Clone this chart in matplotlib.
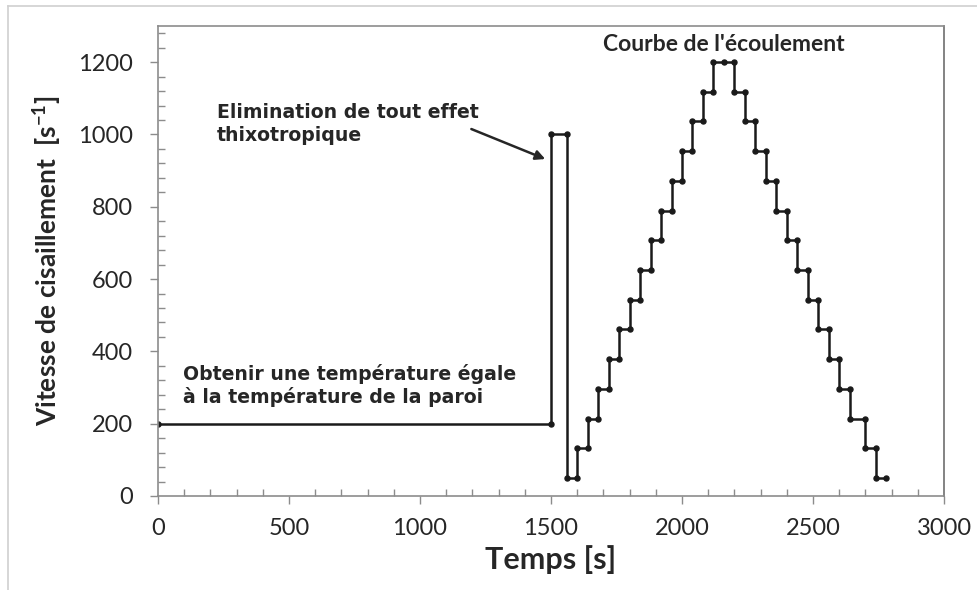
import matplotlib
matplotlib.use("Agg")
import matplotlib.pyplot as plt
from matplotlib.lines import Line2D
from matplotlib.ticker import MultipleLocator

# Step profile: time [s] and shear rate [1/s] at each recorded point
temps = [0, 1500, 1500, 1560, 1560, 1600, 1600, 1640, 1640, 1680, 1680,
         1720, 1720, 1760, 1760, 1800, 1800, 1840, 1840, 1880, 1880,
         1920, 1920, 1960, 1960, 2000, 2000, 2040, 2040, 2080, 2080,
         2120, 2120, 2160, 2200, 2200, 2240, 2240, 2280, 2280, 2320,
         2320, 2360, 2360, 2400, 2400, 2440, 2440, 2480, 2480, 2520,
         2520, 2560, 2560, 2600, 2600, 2640, 2640, 2700, 2700, 2740,
         2740, 2780]
vitesse = [200, 200, 1000, 1000, 50, 50, 132, 132, 214, 214, 296,
           296, 379, 379, 461, 461, 543, 543, 625, 625, 707,
           707, 789, 789, 871, 871, 954, 954, 1036, 1036, 1118,
           1118, 1200, 1200, 1200, 1118, 1118, 1036, 1036, 954, 954,
           871, 871, 789, 789, 707, 707, 625, 625, 543, 543,
           461, 461, 379, 379, 296, 296, 214, 214, 132, 132,
           50, 50]

x_ticks = [0, 500, 1000, 1500, 2000, 2500, 3000]
y_ticks = [0, 200, 400, 600, 800, 1000, 1200]

W, H = 977, 590
fig = plt.figure(figsize=(W / 100, H / 100), dpi=100)
ax = fig.add_axes([158 / W, 1 - 496 / H, (944 - 158) / W, (496 - 26) / H])

ax.plot(temps, vitesse, color="#1a1a1a", lw=1.8, marker="o", ms=3.6,
        solid_joinstyle="miter")

ax.set_xlim(0, 3000)
ax.set_ylim(0, 1300)
ax.set_xticks(x_ticks)
ax.set_yticks(y_ticks)
ax.xaxis.set_minor_locator(MultipleLocator(100))
ax.yaxis.set_minor_locator(MultipleLocator(40))

gray = "#8c8c8c"
for s in ax.spines.values():
    s.set_color(gray)
    s.set_linewidth(1.2)
ax.spines["right"].set_color("#6e6e6e")
ax.tick_params(which="major", direction="out", length=6, width=1, color=gray,
               labelsize=17, labelcolor="#262626", pad=6)
ax.tick_params(which="minor", direction="in", length=5, width=1, color=gray)
for lab in ax.get_xticklabels() + ax.get_yticklabels():
    lab.set_family("Lato")
ax.tick_params(axis="x", pad=10)
ax.tick_params(axis="y", pad=12)

ax.set_xlabel("Temps [s]", family="Lato", fontweight="bold", fontsize=22,
              color="#262626", labelpad=4)
ax.set_ylabel(r"Vitesse de cisaillement  [s$^{\mathregular{-1}}$]", family="Lato",
              fontweight="bold", fontsize=19, color="#262626", labelpad=10)

ax.text(2160, 1250, "Courbe de l'écoulement", family="Lato", fontweight="bold",
        fontsize=16.5, ha="center", va="center", color="#262626")
ax.text(225, 1088, "Elimination de tout effet\nthixotropique", family="DejaVu Sans",
        fontweight="bold", fontsize=13.6, ha="left", va="top", color="#262626",
        linespacing=1.3)
ax.text(95, 366, "Obtenir une température égale\nà la température de la paroi",
        family="DejaVu Sans", fontweight="bold", fontsize=13.6, ha="left",
        va="top", color="#262626", linespacing=1.22)
ax.annotate("", xy=(1478, 932), xytext=(1196, 1015),
            arrowprops=dict(arrowstyle="-|>", color="#262626", lw=1.8,
                            mutation_scale=14, shrinkA=0, shrinkB=0))

# outer chart-area frame
fig.add_artist(Line2D([8 / W, 8 / W], [0, 1 - 6 / H], transform=fig.transFigure,
                      color="#d0d0d0", lw=1.2))
fig.add_artist(Line2D([8 / W, 1], [1 - 6 / H, 1 - 6 / H], transform=fig.transFigure,
                      color="#d0d0d0", lw=1.2))

fig.savefig("out.png", dpi=100)
